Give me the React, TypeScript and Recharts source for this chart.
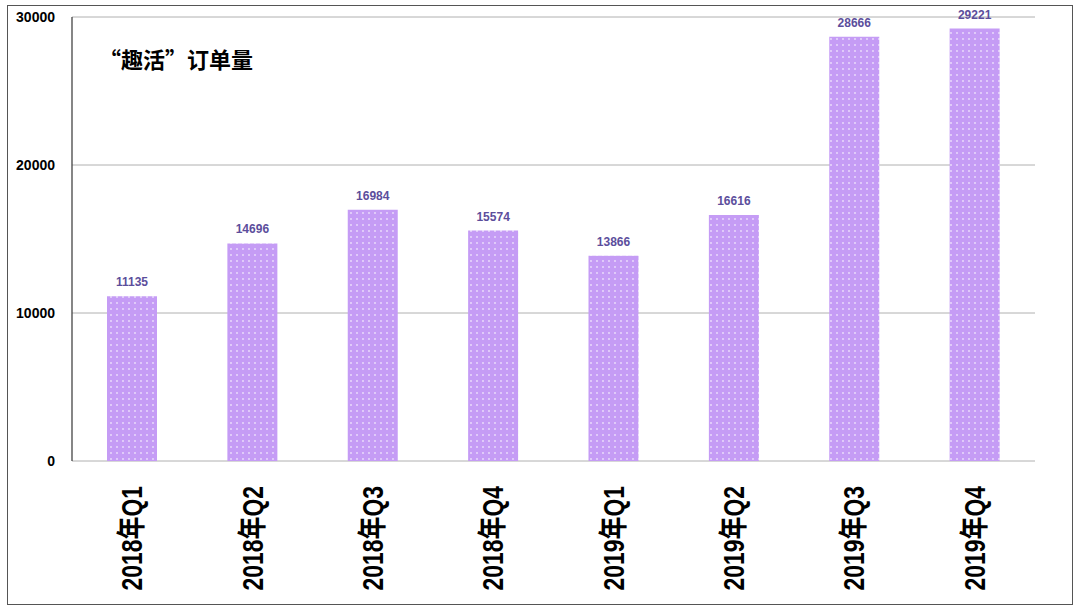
import React from "react";
import { BarChart, Bar, XAxis, YAxis, CartesianGrid, LabelList } from "recharts";

const categories = ["2018年Q1", "2018年Q2", "2018年Q3", "2018年Q4", "2019年Q1", "2019年Q2", "2019年Q3", "2019年Q4"];
const orders = [11135, 14696, 16984, 15574, 13866, 16616, 28666, 29221];
const yTicks = [0, 10000, 20000, 30000];
const boundaryTicks = [1, 2, 3, 4, 5, 6, 7];
const title = "“趣活”订单量";

const data = categories.map((c, i) => ({ name: c, value: orders[i] }));

const CatTick = (props: any) => {
  const { x, y, payload } = props;
  return (
    <text
      transform={`translate(${x + 10}, ${y + 17}) rotate(-90) scale(0.79, 1)`}
      textAnchor="end"
      fontFamily="Liberation Sans, Arial, 'Noto Sans CJK SC', sans-serif"
      fontSize={29}
      fontWeight="bold"
      fill="#000"
    >
      {payload.value}
    </text>
  );
};

export default function App() {
  return (
    <div style={{ position: "absolute", left: 0, top: 0, width: 1080, height: 612, background: "#fff" }}>
      <svg width={0} height={0} style={{ position: "absolute" }}>
        <defs>
          <pattern id="dots" width={6} height={6} patternUnits="userSpaceOnUse">
            <rect width={6} height={6} fill="#c59cf5" />
            <circle cx={3} cy={3} r={0.9} fill="#ecdffc" />
          </pattern>
        </defs>
      </svg>
      <BarChart width={1080} height={612} data={data} margin={{ top: 17, right: 45, left: 12, bottom: 6 }}>
        <CartesianGrid vertical={false} stroke="#b0b0b0" strokeWidth={1} />
        <XAxis xAxisId="top" orientation="top" dataKey="name" height={0} tick={false} tickLine={false} axisLine={{ stroke: "#999", strokeWidth: 1 }} />
        <XAxis
          xAxisId="bounds"
          type="number"
          domain={[0, 8]}
          ticks={boundaryTicks}
          height={0}
          mirror
          tickSize={6}
          tickFormatter={() => ""}
          tickLine={{ stroke: "#333" }}
          axisLine={{ stroke: "#333", strokeWidth: 1.3 }}
        />
        <XAxis
          xAxisId="cat"
          dataKey="name"
          height={145}
          interval={0}
          tickLine={false}
          axisLine={false}
          tick={<CatTick />}
        />
        <YAxis
          domain={[0, 30000]}
          ticks={yTicks}
          width={60}
          tickLine={false}
          tickMargin={11}
          axisLine={{ stroke: "#444", strokeWidth: 1.3 }}
          tick={{ fontFamily: "Liberation Sans, Arial, sans-serif", fontSize: 14, fontWeight: "bold", fill: "#000" }}
        />
        <YAxis yAxisId="r" orientation="right" width={0} tick={false} tickLine={false} axisLine={{ stroke: "#999", strokeWidth: 1.3 }} />
        <Bar dataKey="value" xAxisId="cat" barSize={50} fill="url(#dots)" isAnimationActive={false}>
          <LabelList
            dataKey="value"
            position="top"
            offset={10}
            style={{ fontFamily: "Liberation Sans, Arial, sans-serif", fontSize: 12, fontWeight: "bold", fill: "#5c4e9c" }}
          />
        </Bar>
      </BarChart>
      <div
        style={{
          position: "absolute",
          left: 99,
          top: 44,
          fontFamily: "'Noto Sans CJK SC', sans-serif",
          fontWeight: "bold",
          fontSize: 22,
          lineHeight: "28px",
          color: "#000",
          whiteSpace: "nowrap",
        }}
      >
        {title}
      </div>
      <div
        style={{
          position: "absolute",
          left: 7,
          top: 5,
          width: 1064,
          height: 598,
          border: "1.5px solid #555",
          pointerEvents: "none",
        }}
      />
    </div>
  );
}
